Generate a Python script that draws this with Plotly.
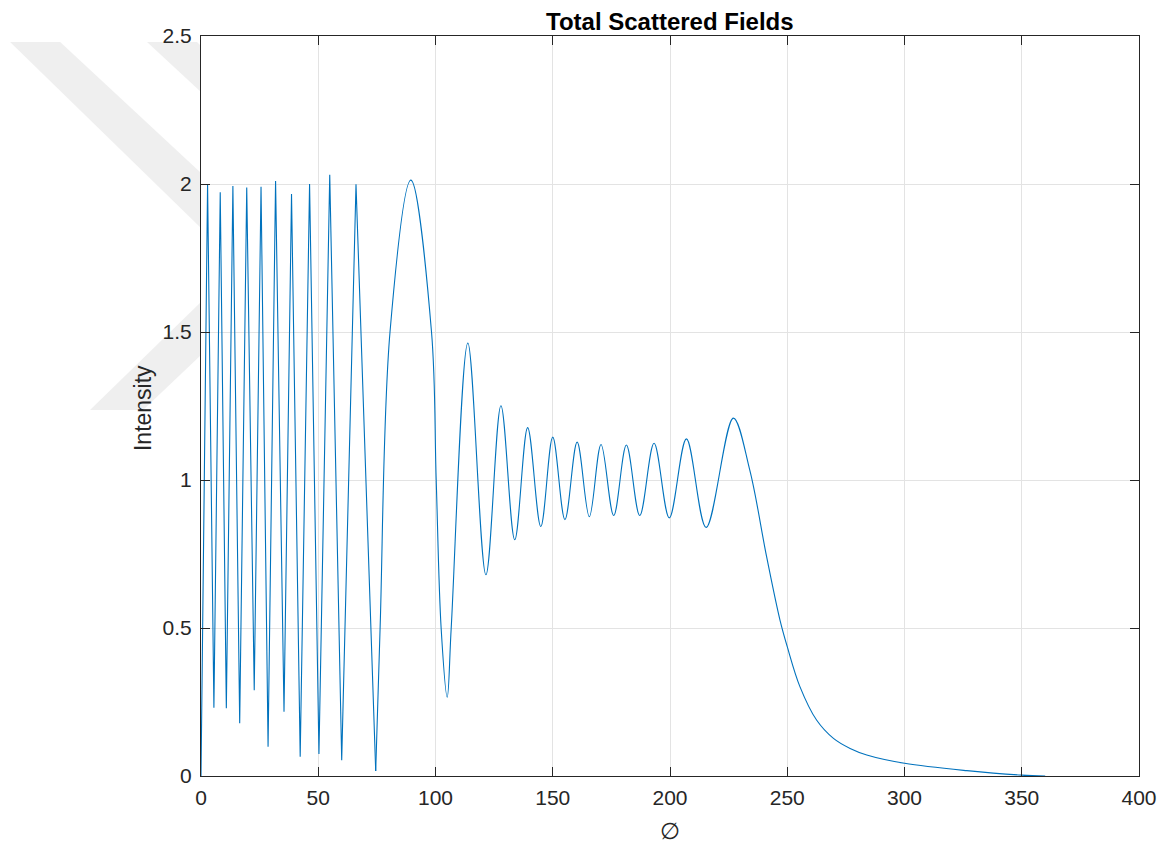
import plotly.graph_objects as go

# ---- data ----
# dense oscillating part (sharp minima) : phi, intensity
phi_dense = [0, 2.8, 5.5, 8.2, 10.8, 13.6, 16.5, 19.5, 22.7, 25.6, 28.6, 31.8,
             35.4, 38.6, 42.3, 46.3, 50.3, 54.9, 60.0, 66.1, 74.5]
int_dense = [0.0, 1.999, 0.231, 1.972, 0.229, 1.993, 0.178, 1.988, 0.29, 1.991,
             0.099, 2.010, 0.217, 1.966, 0.065, 2.0, 0.074, 2.031, 0.053,
             1.999, 0.017]

# smooth part
phi_smooth = [74.5, 76.4, 80.6, 89.5, 98.3, 100.3, 102.4, 105.0, 106.7, 113.8,
              121.5, 127.9, 133.8, 139.3, 144.9, 150.0, 155.2, 160.4, 165.6, 170.6,
              176.0, 181.4, 187.1, 193.2, 199.7, 207.0, 215.4, 227.0, 234.0,
              241.2, 246.9, 250.0, 255.4, 262.5, 269.7, 276.8, 283.9, 300.0,
              326.6, 350.0, 360.0]
int_smooth = [0.017, 0.507, 1.5, 2.013, 1.5, 1.0, 0.5, 0.266, 0.5, 1.463,
              0.680, 1.251, 0.798, 1.177, 0.843, 1.145, 0.866, 1.128, 0.876, 1.120,
              0.880, 1.118, 0.880, 1.124, 0.872, 1.139, 0.840, 1.209, 1.034,
              0.741, 0.527, 0.437, 0.302, 0.189, 0.127, 0.093, 0.071, 0.043,
              0.018, 0.003, 0.0]

x_ticks = [0, 50, 100, 150, 200, 250, 300, 350, 400]
y_ticks = [0, 0.5, 1, 1.5, 2, 2.5]
y_tick_text = ["0", "0.5", "1", "1.5", "2", "2.5"]

LINE = "#0072BD"
AX = "#262626"
FONT = "Liberation Sans, Arial, Helvetica, sans-serif"

fig = go.Figure()
fig.add_trace(go.Scatter(x=phi_dense, y=int_dense, mode="lines",
                         line=dict(color=LINE, width=1.1, shape="linear"),
                         showlegend=False, hoverinfo="skip"))
fig.add_trace(go.Scatter(x=phi_smooth, y=int_smooth, mode="lines",
                         line=dict(color=LINE, width=1.1, shape="spline", smoothing=1.0),
                         showlegend=False, hoverinfo="skip"))

# page offset of the plot div (default body margin)
OFF = 8
# plot area in page pixels
L, R, T, B = 201, 1139.5, 36, 776
W, H = 1168 - OFF, 843 - OFF


def px(x, y):
    return (x - L) / (R - L), (B - y) / (B - T)


def poly(points):
    pts = [px(a, b) for a, b in points]
    return "M " + " L ".join(f"{a:.4f},{b:.4f}" for a, b in pts) + " Z"


wm_color = "#efefef"
for pts in [
    [(10, 42), (60, 42), (201, 173), (201, 228)],
    [(147, 42), (197, 42), (201, 46), (201, 92)],
    [(90, 410), (143, 410), (201, 355), (201, 302)],
]:
    fig.add_shape(type="path", path=poly(pts), xref="paper", yref="paper",
                  fillcolor=wm_color, line=dict(width=0), layer="below")

axis_common = dict(
    showline=True, linecolor=AX, linewidth=1, mirror="allticks",
    ticks="inside", ticklen=9, tickwidth=1, tickcolor=AX,
    showgrid=True, gridcolor="#e3e3e3", gridwidth=1,
    zeroline=False, tickfont=dict(family=FONT, size=21, color=AX),
)

fig.update_xaxes(range=[0, 400], tickvals=x_ticks, ticktext=[str(v) for v in x_ticks],
                 ticklabelstandoff=3, **axis_common)
fig.update_yaxes(range=[0, 2.5], tickvals=y_ticks, ticktext=y_tick_text,
                 ticklabelstandoff=4, **axis_common)

fig.add_annotation(text="<b>Total Scattered Fields</b>", x=0.5, y=(B - 22) / (B - T),
                   xref="paper", yref="paper", showarrow=False, borderpad=0,
                   font=dict(family=FONT, size=24, color="#000000"),
                   xanchor="center", yanchor="middle")
fig.add_annotation(text="Intensity", x=(143 - L) / (R - L), y=(B - 408) / (B - T),
                   xref="paper", yref="paper", showarrow=False, textangle=-90,
                   font=dict(family=FONT, size=23, color=AX),
                   xanchor="center", yanchor="middle")
fig.add_annotation(text="∅", x=(670 - L) / (R - L), y=(B - 831) / (B - T),
                   xref="paper", yref="paper", showarrow=False,
                   font=dict(family=FONT, size=23, color=AX),
                   xanchor="center", yanchor="middle")

fig.update_layout(
    width=W, height=H, autosize=False,
    margin=dict(l=L - OFF, r=(W + OFF) - R, t=T - OFF, b=(H + OFF) - B, pad=0),
    paper_bgcolor="white", plot_bgcolor="white",
    font=dict(family=FONT, color=AX),
)

fig.write_html("out.html")
